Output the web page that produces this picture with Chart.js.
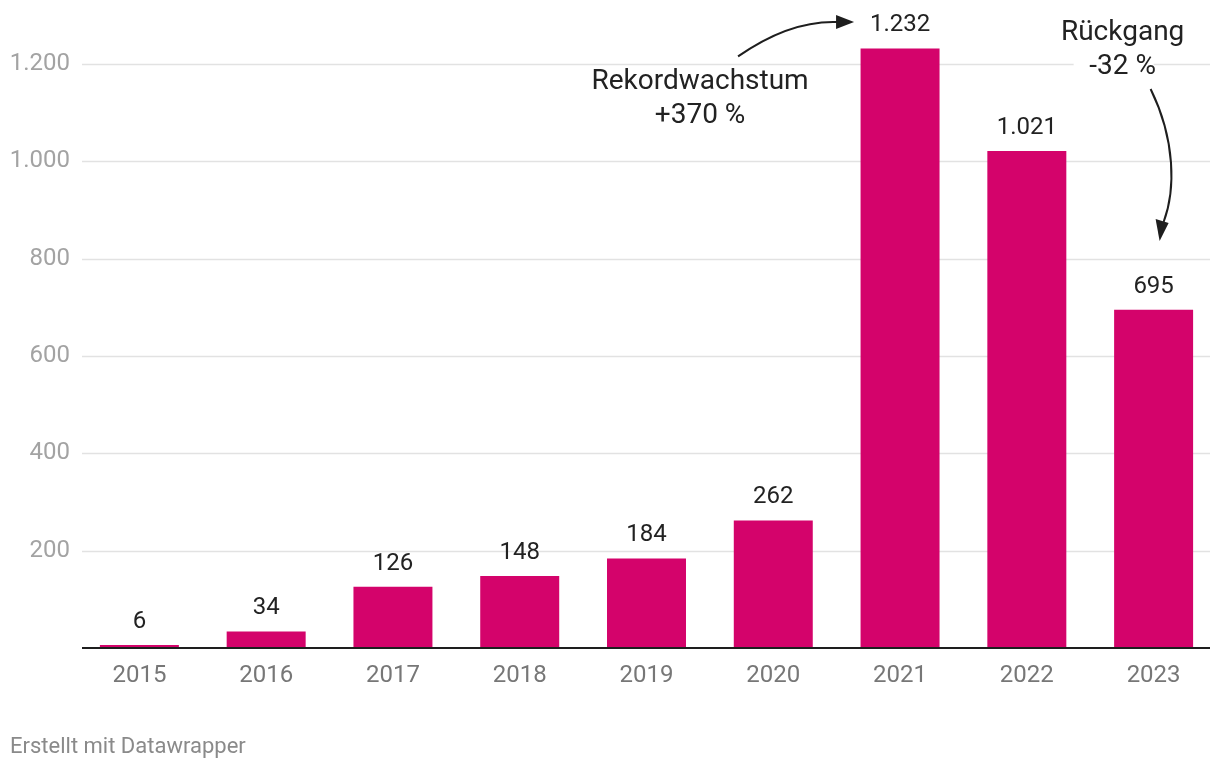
<!DOCTYPE html>
<html lang="de">
<head>
<meta charset="utf-8">
<title>Chart</title>
<script src="https://cdn.jsdelivr.net/npm/chart.js@4"></script>
<style>
  html, body { margin: 0; padding: 0; background: #fff; }
  #wrap { width: 1220px; height: 770px; position: relative; }
</style>
</head>
<body>
<div id="wrap"><canvas id="chart" width="1220" height="770"></canvas></div>
<script>
// Werte aus der Grafik
const years = ["2015", "2016", "2017", "2018", "2019", "2020", "2021", "2022", "2023"];
const values = [6, 34, 126, 148, 184, 262, 1232, 1021, 695];
const yTicks = [200, 400, 600, 800, 1000, 1200];

const barColor = "#d4036b";
const font = "Roboto";

// 1232 -> "1.232"
function fmt(n) {
  return String(n).replace(/\B(?=(\d{3})+(?!\d))/g, ".");
}

// gridlines, baseline, value labels, annotations, footer
const extras = {
  id: "extras",
  beforeDatasetsDraw(chart) {
    const ctx = chart.ctx;
    const y = chart.scales.y;
    ctx.save();
    ctx.strokeStyle = "#e2e2e2";
    ctx.lineWidth = 1.5;
    yTicks.forEach(t => {
      const py = Math.round(y.getPixelForValue(t)) + 0.5;
      ctx.beginPath();
      ctx.moveTo(82, py);
      ctx.lineTo(1210, py);
      ctx.stroke();
    });
    ctx.restore();
  },
  afterDatasetsDraw(chart) {
    const ctx = chart.ctx;
    const x = chart.scales.x;
    const y = chart.scales.y;
    const meta = chart.getDatasetMeta(0);
    ctx.save();

    // baseline
    ctx.strokeStyle = "#1e1e1e";
    ctx.lineWidth = 2;
    ctx.beginPath();
    ctx.moveTo(82, y.getPixelForValue(0));
    ctx.lineTo(1210, y.getPixelForValue(0));
    ctx.stroke();

    // value labels
    ctx.fillStyle = "#222";
    ctx.font = "24px " + font;
    ctx.textAlign = "center";
    ctx.textBaseline = "bottom";
    meta.data.forEach((bar, i) => {
      ctx.fillText(fmt(values[i]), bar.x, bar.y - 11);
    });

    // annotation Rekordwachstum
    const x20 = x.getPixelForValue(6);
    const top21 = y.getPixelForValue(values[6]);
    ctx.font = "28px " + font;
    ctx.textBaseline = "middle";
    ctx.fillText("Rekordwachstum", x20 - 200, 82);
    ctx.fillText("+370 %", x20 - 200, 116);

    ctx.strokeStyle = "#1e1e1e";
    ctx.fillStyle = "#1e1e1e";
    ctx.lineWidth = 2;
    ctx.beginPath();
    ctx.moveTo(x20 - 162, top21 + 8);
    ctx.quadraticCurveTo(x20 - 110, 20, x20 - 62, 22);
    ctx.stroke();
    ctx.beginPath();
    ctx.moveTo(x20 - 46, 22);
    ctx.lineTo(x20 - 64, 15);
    ctx.lineTo(x20 - 64, 29);
    ctx.closePath();
    ctx.fill();

    // annotation Rückgang
    const x23 = x.getPixelForValue(8);
    ctx.fillStyle = "#fff";
    ctx.fillRect(x23 - 80, 52, 80, 30);
    ctx.fillStyle = "#222";
    ctx.fillText("Rückgang", x23 - 31, 33);
    ctx.fillText("-32 %", x23 - 31, 67);

    ctx.beginPath();
    ctx.moveTo(x23 - 3, 89);
    ctx.bezierCurveTo(x23 + 22, 140, x23 + 22, 190, x23 + 10, 222);
    ctx.stroke();
    ctx.fillStyle = "#1e1e1e";
    ctx.beginPath();
    ctx.moveTo(x23 + 6, 241);
    ctx.lineTo(x23 + 2, 219);
    ctx.lineTo(x23 + 15, 223);
    ctx.closePath();
    ctx.fill();

    // footer
    ctx.font = "22px " + font;
    ctx.fillStyle = "#8a8a8a";
    ctx.textAlign = "left";
    ctx.fillText("Erstellt mit Datawrapper", 10, 747);
    ctx.restore();
  }
};

document.addEventListener("DOMContentLoaded", () => {
  const ctx = document.getElementById("chart").getContext("2d");
  new Chart(ctx, {
    type: "bar",
    data: {
      labels: years,
      datasets: [{
        data: values,
        backgroundColor: barColor,
        barPercentage: 0.623,
        categoryPercentage: 1.0
      }]
    },
    options: {
      responsive: false,
      animation: false,
      layout: { padding: { top: 15.3, right: 3, bottom: 0, left: 0 } },
      plugins: {
        legend: { display: false },
        tooltip: { enabled: false }
      },
      scales: {
        x: {
          grid: { display: false, drawTicks: false },
          border: { display: false },
          ticks: {
            color: "#777",
            font: { family: font, size: 24 },
            padding: 14
          },
          afterFit(scale) { scale.height = 122; }
        },
        y: {
          min: 0,
          max: 1300,
          grid: { display: false, drawTicks: false },
          border: { display: false },
          afterBuildTicks(scale) {
            scale.ticks = yTicks.map(v => ({ value: v }));
          },
          ticks: {
            color: "#a3a3a3",
            font: { family: font, size: 24 },
            padding: 6,
            callback: v => fmt(v)
          },
          afterFit(scale) {
            scale.width = 76;
            scale.paddingTop = 0;
            scale.paddingBottom = 0;
          }
        }
      }
    },
    plugins: [extras]
  });
});
</script>
</body>
</html>
